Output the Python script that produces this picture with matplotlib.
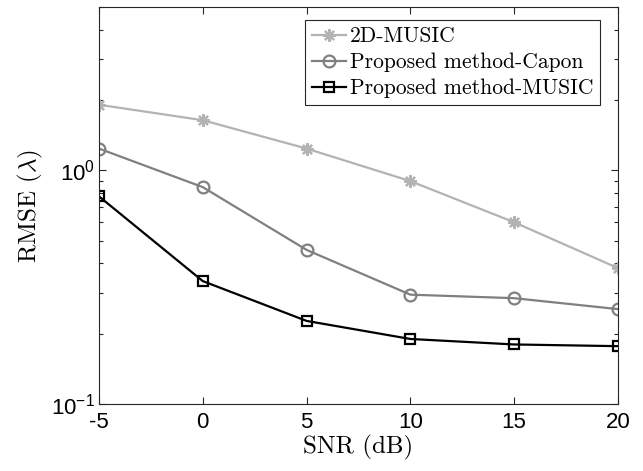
import matplotlib
matplotlib.use('Agg')
import matplotlib.pyplot as plt
from matplotlib.ticker import LogLocator, NullFormatter

# data
snr = [-5, 0, 5, 10, 15, 20]
rmse_2d_music = [1.91, 1.64, 1.24, 0.90, 0.60, 0.382]
rmse_capon = [1.24, 0.848, 0.457, 0.294, 0.284, 0.255]
rmse_music = [0.774, 0.336, 0.227, 0.190, 0.180, 0.177]
labels = ['2D-MUSIC', 'Proposed method-Capon', 'Proposed method-MUSIC']

plt.rcParams['font.family'] = ['Liberation Sans', 'DejaVu Sans']
plt.rcParams['mathtext.fontset'] = 'cm'
plt.rcParams['axes.unicode_minus'] = False
serif = ['cmr10', 'DejaVu Serif']

fig = plt.figure(figsize=(6.43, 4.71), dpi=100)
ax = fig.add_axes([0.154, 0.142, 0.807, 0.843])

# MATLAB-like asterisk marker: 8 arms
ax.plot(snr, rmse_2d_music, '-', marker=(8, 2, 0), color='#b3b3b3', lw=1.6,
        ms=9, mew=1.6, label=labels[0])
ax.plot(snr, rmse_capon, '-o', color='#808080', lw=1.6, ms=8.5, mfc='none',
        mew=1.6, label=labels[1])
ax.plot(snr, rmse_music, '-s', color='black', lw=1.6, ms=6.5, mfc='none',
        mew=1.6, label=labels[2])

ax.set_yscale('log')
ax.set_xlim(-5, 20)
ax.set_ylim(0.1, 5)
ax.set_xticks(snr)
ax.yaxis.set_major_locator(LogLocator(base=10, numticks=5))
ax.yaxis.set_minor_locator(LogLocator(base=10, subs=range(2, 10), numticks=10))
ax.yaxis.set_minor_formatter(NullFormatter())

ax.tick_params(which='both', direction='in', top=True, right=True,
               labelsize=16, color='#262626', width=0.8)
ax.tick_params(which='major', length=5)
ax.tick_params(which='minor', length=3)
ax.tick_params(axis='x', pad=6)
ax.tick_params(axis='y', pad=3)
for s in ax.spines.values():
    s.set_color('#262626')
    s.set_linewidth(0.8)

ax.set_xlabel('SNR (dB)', family=serif, fontsize=18, labelpad=1)
ax.set_ylabel(r'RMSE $(\lambda)$', family=serif, fontsize=18, labelpad=4)

leg = ax.legend(loc='upper right', bbox_to_anchor=(0.966, 0.967),
                prop={'family': serif, 'size': 15.5}, fancybox=False,
                framealpha=1, edgecolor='#262626', handlelength=1.6,
                handletextpad=0.2, borderpad=0.3, labelspacing=0.3,
                borderaxespad=0)
leg.get_frame().set_linewidth(0.8)

fig.savefig('out.png', dpi=100)
